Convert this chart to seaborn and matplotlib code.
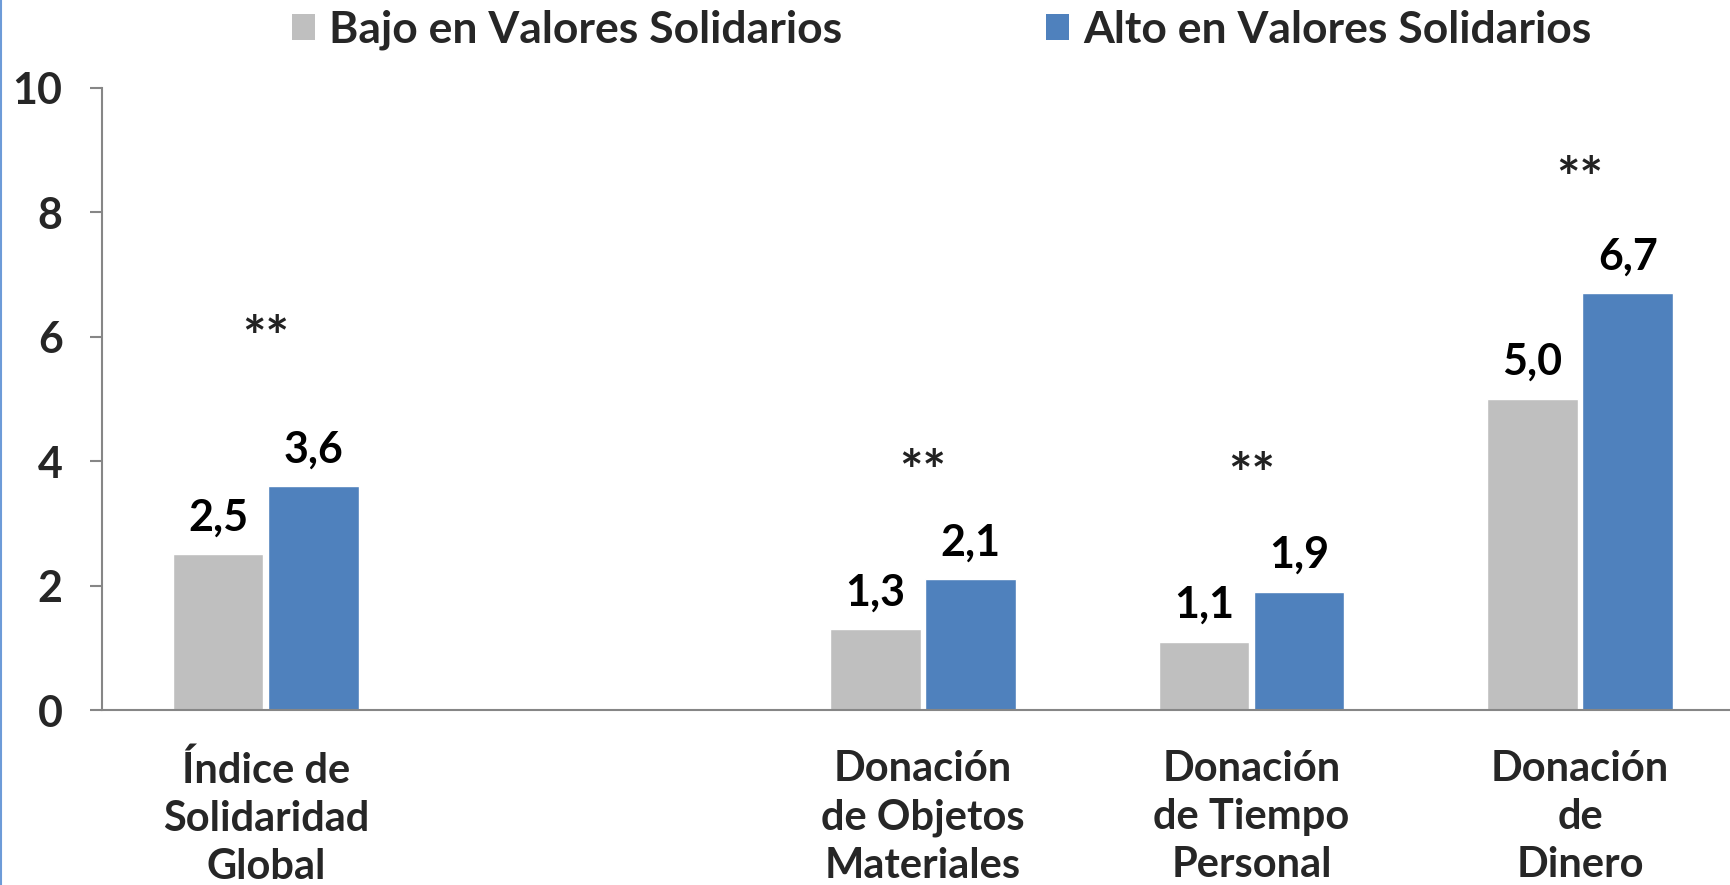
import numpy as np
import pandas as pd
import matplotlib
matplotlib.use('Agg')
import matplotlib.pyplot as plt
import seaborn as sns
from matplotlib.lines import Line2D
from matplotlib.patches import Patch

# Data
categories = ['Índice de\nSolidaridad\nGlobal', ' ', 'Donación\nde Objetos\nMateriales',
              'Donación\nde Tiempo\nPersonal', 'Donación\nde\nDinero']
bajo = [2.5, np.nan, 1.3, 1.1, 5.0]
alto = [3.6, np.nan, 2.1, 1.9, 6.7]
star_y = [6.2, np.nan, 4.05, 4.0, 8.75]
groups = ['Bajo en Valores Solidarios', 'Alto en Valores Solidarios']
colors = ['#BFBFBF', '#4F81BD']

df = pd.DataFrame({
    'Categoria': categories * 2,
    'Grupo': [groups[0]] * len(categories) + [groups[1]] * len(categories),
    'Valor': bajo + alto,
})

sns.set_style('white')
plt.rcParams['font.family'] = ['Lato', 'DejaVu Sans']
plt.rcParams['font.weight'] = 'bold'

fig = plt.figure(figsize=(17.31, 8.85), dpi=100)
ax = fig.add_axes([0.0587, 0.1977, 0.949, 0.703])

sns.barplot(data=df, x='Categoria', y='Valor', hue='Grupo', order=categories,
            hue_order=groups, palette=colors, width=0.58, gap=0.05,
            saturation=1, legend=False, ax=ax)

# value labels above bars
for cont in ax.containers:
    for bar in cont:
        h = bar.get_height()
        if np.isfinite(h) and h > 0:
            ax.text(bar.get_x() + bar.get_width() / 2, h + 0.27,
                    f'{h:.1f}'.replace('.', ','), ha='center', va='bottom',
                    fontsize=31, fontweight='bold', color='black')

# significance marks (asterisk glyph sits high, so nudge down)
for i, y in enumerate(star_y):
    if np.isfinite(y):
        ax.text(i, y - 0.25, '**', ha='center', va='center', fontsize=40,
                fontweight='bold', color='#222222')

ax.set_ylim(0, 10)
ax.set_xlim(-0.5, len(categories) - 0.5)
ax.set_yticks([0, 2, 4, 6, 8, 10])
ax.set_xlabel('')
ax.set_ylabel('')

for s in ['top', 'right']:
    ax.spines[s].set_visible(False)
for s in ['left', 'bottom']:
    ax.spines[s].set_color('#868686')
    ax.spines[s].set_linewidth(1.5)

ax.set_xticks(np.arange(-0.5, len(categories), 1), minor=True)
ax.tick_params(axis='x', which='major', length=0, pad=29, labelsize=30)
ax.tick_params(axis='x', which='minor', length=10, width=1.5, color='#868686', direction='out')
ax.tick_params(axis='y', which='major', length=9, width=1.5, color='#868686',
               direction='out', left=True, pad=19, labelsize=31)
for lab in ax.get_xticklabels() + ax.get_yticklabels():
    lab.set_fontweight('bold')
    lab.set_linespacing(1.32)

handles = [Patch(facecolor=c, edgecolor='none') for c in colors]
fig.legend(handles, groups, loc='center', bbox_to_anchor=(0.544, 0.966), ncol=2,
           frameon=False, handlelength=0.5, handleheight=0.5, handletextpad=0.32,
           columnspacing=4.6, prop={'size': 32, 'weight': 'bold'})

# page border line at the left edge
fig.add_artist(Line2D([0.0008, 0.0008], [0, 1], color='#6D9BD8', lw=1.5))

fig.savefig('out.png', dpi=100)
